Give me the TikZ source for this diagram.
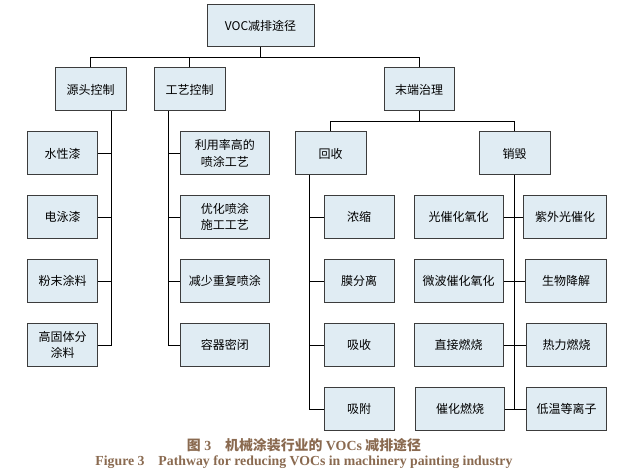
\documentclass[tikz,border=0pt]{standalone}
\usepackage{fontspec}
\usetikzlibrary{calc}
\setmainfont{Liberation Serif}
\newfontfamily\cjk{Noto Sans CJK SC}
\definecolor{boxfill}{RGB}{224,236,243}
\definecolor{boxline}{RGB}{60,60,60}
\definecolor{capcol}{RGB}{138,106,80}
\begin{document}
\begin{tikzpicture}[x=1pt,y=-1pt]
			\tikzstyle{box}=[draw=boxline,fill=boxfill,line width=1pt,minimum height=43pt,inner sep=1pt,align=center,font=\cjk\fontsize{12}{16.5}\selectfont]
			\useasboundingbox (0,0) rectangle (640,476);
			% top levels
			\node[box,minimum width=107pt,minimum height=42pt] (root) at (260.5,26) {VOC减排途径};
			\node[box,minimum width=71pt] (src) at (90.5,89.5) {源头控制};
			\node[box,minimum width=71pt] (proc) at (189.5,89.5) {工艺控制};
			\node[box,minimum width=70pt] (endt) at (419,89.5) {末端治理};
			\node[box,minimum width=71pt] (rec) at (330.5,153.5) {回收};
			\node[box,minimum width=71pt] (des) at (514.5,153.5) {销毁};
			% source control
			\node[box,minimum width=70.5pt] (s_1) at (62.5,153.5) {水性漆};
			\node[box,minimum width=70.5pt] (s_2) at (62.5,217) {电泳漆};
			\node[box,minimum width=70.5pt] (s_3) at (62.5,281) {粉末涂料};
			\node[box,minimum width=70.5pt] (s_4) at (62.5,345) {高固体分\\涂料};
			% process control
			\node[box,minimum width=89pt] (p_1) at (224.75,153.5) {利用率高的\\喷涂工艺};
			\node[box,minimum width=89pt] (p_2) at (224.75,217) {优化喷涂\\施工工艺};
			\node[box,minimum width=89pt] (p_3) at (224.75,281) {减少重复喷涂};
			\node[box,minimum width=89pt] (p_4) at (224.75,345) {容器密闭};
			% recovery
			\node[box,minimum width=70pt] (r_1) at (359,217) {浓缩};
			\node[box,minimum width=70pt] (r_2) at (359,281) {膜分离};
			\node[box,minimum width=70pt] (r_3) at (359,345) {吸收};
			\node[box,minimum width=70pt] (r_4) at (359,409) {吸附};
			% destruction
			\node[box,minimum width=89pt] (d_1) at (458.5,217) {光催化氧化};
			\node[box,minimum width=89pt] (d_2) at (458.5,281) {微波催化氧化};
			\node[box,minimum width=89pt] (d_3) at (458.5,345) {直接燃烧};
			\node[box,minimum width=89pt] (d_4) at (460,409) {催化燃烧};
			\node[box,minimum width=83pt] (d_5) at (565,217) {紫外光催化};
			\node[box,minimum width=81pt] (d_6) at (566,281) {生物降解};
			\node[box,minimum width=80pt] (d_7) at (566.5,345) {热力燃烧};
			\node[box,minimum width=80pt] (d_8) at (566.5,409) {低温等离子};
			% connectors
			\coordinate (srcT) at ($(src.south east)+(-15,0)$);
			\coordinate (procT) at ($(proc.south west)+(15,0)$);
			\coordinate (recT) at ($(rec.south west)+(15,0)$);
			\draw[line width=1pt] (src.north) -- ++(0,-10) -| (root.south) (proc.north) -- ++(0,-10) (endt.north) -- ++(0,-10) -| (root.south);
			\draw[line width=1pt] (rec.north) -- ++(0,-10) -| (endt.south) (des.north) -- ++(0,-10) -| (endt.south);
			\draw[line width=1pt] (srcT) |- (s_4.east) (s_1.east) -- (s_1.east -| srcT) (s_2.east) -- (s_2.east -| srcT) (s_3.east) -- (s_3.east -| srcT);
			\draw[line width=1pt] (procT) |- (p_4.west) (p_1.west) -- (p_1.west -| procT) (p_2.west) -- (p_2.west -| procT) (p_3.west) -- (p_3.west -| procT);
			\draw[line width=1pt] (recT) |- (r_4.west) (r_1.west) -- (r_1.west -| recT) (r_2.west) -- (r_2.west -| recT) (r_3.west) -- (r_3.west -| recT);
			\draw[line width=1pt] (des.south) -- (des.south |- d_4.east) (d_1.east) -- (d_5.west) (d_2.east) -- (d_6.west) (d_3.east) -- (d_7.west) (d_4.east) -- (d_8.west);
			% caption
			\node[text=capcol,font=\fontsize{13.9}{16}\selectfont\bfseries] (cap_1) at (304,445) {{\cjk 图} 3\quad{\cjk 机械涂装行业的} VOCs {\cjk 减排途径}};
			\node[text=capcol,font=\fontsize{13.8}{16}\selectfont\bfseries] (cap_2) at (304,462) {Figure 3\quad Pathway for reducing VOCs in machinery painting industry};
		\end{tikzpicture}
\end{document}
